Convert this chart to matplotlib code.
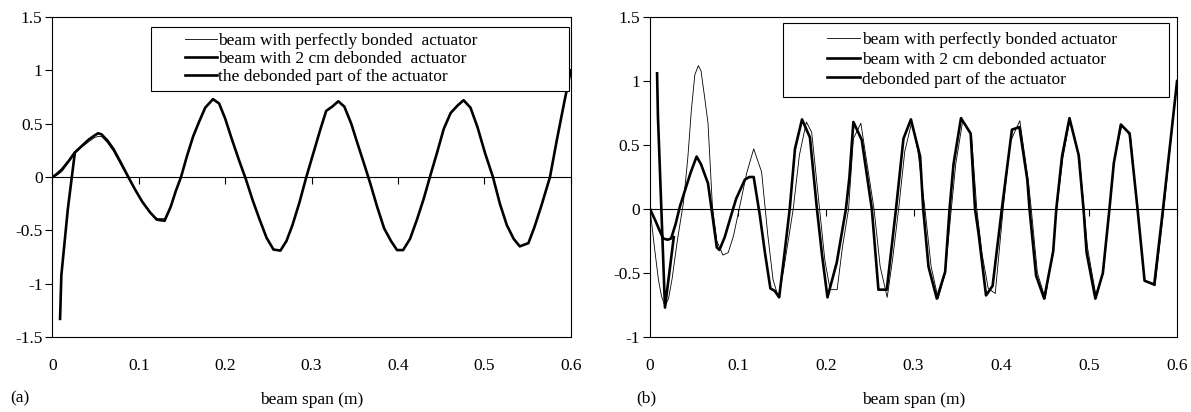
import matplotlib
matplotlib.use("Agg")
import matplotlib.pyplot as plt
from matplotlib.lines import Line2D
from matplotlib.legend_handler import HandlerLine2D

plt.rcParams['font.family'] = ['Liberation Serif', 'DejaVu Serif']

# ---- panel (a): beam span (m) vs normalised deflection ----
a_x = [0, 0.004, 0.011, 0.019, 0.026, 0.034, 0.042, 0.049, 0.053, 0.057,
       0.064, 0.071, 0.079, 0.088, 0.096, 0.104, 0.113, 0.121, 0.130, 0.137,
       0.143, 0.149, 0.156, 0.163, 0.170, 0.177, 0.186, 0.193, 0.200, 0.208,
       0.216, 0.224, 0.232, 0.240, 0.248, 0.256, 0.264, 0.271, 0.278, 0.286,
       0.294, 0.302, 0.310, 0.317, 0.324, 0.331, 0.338, 0.346, 0.353, 0.361,
       0.368, 0.376, 0.384, 0.392, 0.399, 0.406, 0.414, 0.422, 0.430, 0.437,
       0.445, 0.453, 0.461, 0.469, 0.476, 0.484, 0.492, 0.501, 0.510, 0.518,
       0.526, 0.534, 0.541, 0.551, 0.558, 0.566, 0.576, 0.584, 0.592, 0.600]
a_bonded = [0, 0.01, 0.05, 0.14, 0.22, 0.28, 0.33, 0.37, 0.38, 0.38,
            0.32, 0.24, 0.12, -0.01, -0.12, -0.23, -0.33, -0.39, -0.39, -0.28,
            -0.13, 0.0, 0.2, 0.38, 0.52, 0.65, 0.73, 0.69, 0.55, 0.35,
            0.16, -0.02, -0.22, -0.40, -0.57, -0.68, -0.69, -0.60, -0.45, -0.24,
            0.0, 0.22, 0.44, 0.62, 0.66, 0.71, 0.66, 0.50, 0.32, 0.12,
            -0.06, -0.28, -0.48, -0.60, -0.685, -0.685, -0.58, -0.40, -0.20, 0.0,
            0.22, 0.45, 0.60, 0.67, 0.72, 0.65, 0.47, 0.22, 0.0, -0.25,
            -0.45, -0.58, -0.65, -0.62, -0.47, -0.27, 0.0, 0.35, 0.68, 1.0]
a_debonded = [0, 0.02, 0.07, 0.15, 0.23, 0.29, 0.35, 0.39, 0.41, 0.40,
              0.34, 0.26, 0.14, 0.0, -0.12, -0.23, -0.33, -0.40, -0.41, -0.28,
              -0.13, 0.0, 0.2, 0.38, 0.52, 0.65, 0.73, 0.69, 0.55, 0.35,
              0.16, -0.02, -0.22, -0.40, -0.57, -0.68, -0.69, -0.60, -0.45, -0.24,
              0.0, 0.22, 0.44, 0.62, 0.66, 0.71, 0.66, 0.50, 0.32, 0.12,
              -0.06, -0.28, -0.48, -0.60, -0.685, -0.685, -0.58, -0.40, -0.20, 0.0,
              0.22, 0.45, 0.60, 0.67, 0.72, 0.65, 0.47, 0.22, 0.0, -0.25,
              -0.45, -0.58, -0.65, -0.62, -0.47, -0.27, 0.0, 0.35, 0.68, 1.0]
a_part_x = [0.009, 0.0105, 0.018, 0.026]
a_part_y = [-1.33, -0.92, -0.30, 0.22]

# ---- panel (b) ----
b_bonded_x = [0, 0.005, 0.0095, 0.013, 0.017, 0.021, 0.025, 0.031, 0.038, 0.043,
              0.047, 0.051, 0.055, 0.058, 0.062, 0.066, 0.071, 0.076, 0.083, 0.089,
              0.095, 0.103, 0.110, 0.118, 0.127, 0.134, 0.140, 0.146, 0.152, 0.163,
              0.170, 0.178, 0.184, 0.193, 0.199, 0.205, 0.213, 0.219, 0.226, 0.2315,
              0.240, 0.246, 0.255, 0.262, 0.270, 0.276, 0.283, 0.290, 0.298, 0.305,
              0.313, 0.320, 0.328, 0.336, 0.343, 0.348, 0.356, 0.366, 0.372, 0.378,
              0.385, 0.393, 0.402, 0.410, 0.415, 0.421, 0.431, 0.434, 0.441, 0.450,
              0.459, 0.463, 0.470, 0.478, 0.489, 0.494, 0.498, 0.508, 0.516, 0.523,
              0.529, 0.537, 0.547, 0.555, 0.563, 0.575, 0.585, 0.600]
b_bonded_y = [0, -0.30, -0.55, -0.68, -0.76, -0.70, -0.55, -0.25, 0.05, 0.40,
              0.77, 1.05, 1.12, 1.08, 0.88, 0.67, 0.02, -0.25, -0.36, -0.34,
              -0.21, 0.05, 0.28, 0.47, 0.29, -0.20, -0.55, -0.69, -0.48, 0.0,
              0.42, 0.68, 0.60, 0.0, -0.40, -0.63, -0.63, -0.30, 0.0, 0.55,
              0.67, 0.40, 0.0, -0.45, -0.69, -0.40, 0.0, 0.45, 0.68, 0.45,
              0.0, -0.45, -0.70, -0.50, 0.0, 0.35, 0.69, 0.57, 0.0, -0.35,
              -0.62, -0.66, 0.0, 0.52, 0.60, 0.69, 0.20, 0.0, -0.50, -0.70,
              -0.30, 0.0, 0.40, 0.70, 0.40, 0.0, -0.30, -0.69, -0.50, 0.0,
              0.40, 0.65, 0.57, 0.0, -0.56, -0.60, 0.0, 1.0]
b_debonded_x = [0, 0.006, 0.011, 0.015, 0.020, 0.024, 0.029, 0.034, 0.040, 0.046,
                0.053, 0.058, 0.066, 0.071, 0.076, 0.079, 0.085, 0.091, 0.098, 0.104,
                0.108, 0.113, 0.118, 0.125, 0.131, 0.137, 0.142, 0.147, 0.153, 0.159,
                0.165, 0.173, 0.182, 0.190, 0.196, 0.202, 0.2125, 0.223, 0.227, 0.2315,
                0.241, 0.2525, 0.260, 0.2695, 0.280, 0.2885, 0.297, 0.3075, 0.311, 0.317,
                0.3265, 0.336, 0.341, 0.3455, 0.354, 0.365, 0.370, 0.374, 0.3825, 0.390,
                0.4005, 0.412, 0.4205, 0.4295, 0.432, 0.4395, 0.4487, 0.459, 0.4625, 0.469,
                0.4775, 0.488, 0.4935, 0.497, 0.507, 0.5155, 0.523, 0.528, 0.536, 0.546,
                0.555, 0.563, 0.574, 0.584, 0.600]
b_debonded_y = [0, -0.09, -0.17, -0.23, -0.24, -0.23, -0.12, 0.02, 0.15, 0.28,
                0.41, 0.35, 0.20, -0.05, -0.30, -0.32, -0.22, -0.08, 0.08, 0.17,
                0.23, 0.25, 0.25, -0.05, -0.35, -0.62, -0.64, -0.69, -0.35, 0.0,
                0.47, 0.70, 0.56, 0.0, -0.37, -0.69, -0.42, 0.0, 0.25, 0.68,
                0.54, 0.0, -0.63, -0.63, 0.0, 0.55, 0.70, 0.41, 0.0, -0.45,
                -0.70, -0.49, 0.0, 0.35, 0.71, 0.59, 0.0, -0.19, -0.675, -0.60,
                0.0, 0.62, 0.64, 0.23, 0.0, -0.52, -0.70, -0.33, 0.0, 0.41,
                0.71, 0.42, 0.0, -0.34, -0.70, -0.50, 0.0, 0.36, 0.66, 0.59,
                0.0, -0.56, -0.59, 0.0, 1.0]
b_part_x = [0.008, 0.009, 0.017, 0.027]
b_part_y = [1.06, 0.72, -0.77, -0.22]

x_ticks = [0, 0.1, 0.2, 0.3, 0.4, 0.5, 0.6]
x_labels = ['0', '0.1', '0.2', '0.3', '0.4', '0.5', '0.6']
a_yticks = [-1.5, -1, -0.5, 0, 0.5, 1, 1.5]
a_ylabels = ['-1.5', '-1', '-0.5', '0', '0.5', '1', '1.5']
b_yticks = [-1, -0.5, 0, 0.5, 1, 1.5]
b_ylabels = ['-1', '-0.5', '0', '0.5', '1', '1.5']

a_labels = ['beam with perfectly bonded  actuator',
            'beam with 2 cm debonded  actuator',
            'the debonded part of the actuator']
b_labels = ['beam with perfectly bonded actuator',
            'beam with 2 cm debonded actuator',
            'debonded part of the actuator']

THIN = 0.6
THICK = 1.9
FS = 12.5

fig = plt.figure(figsize=(11.91, 4.12), dpi=100)
ax_a = fig.add_axes([0.0439, 0.182, 0.4353, 0.7767])
ax_b = fig.add_axes([0.5458, 0.182, 0.4425, 0.7767])


def style_axes(ax, ylo, yhi, yticks, ylabels):
    ax.set_xlim(0, 0.6)
    ax.set_ylim(ylo, yhi)
    ax.set_xticks(x_ticks)
    ax.set_xticklabels(x_labels)
    ax.set_yticks(yticks)
    ax.set_yticklabels(ylabels)
    ax.tick_params(axis='x', length=0, pad=15, labelsize=FS)
    ax.tick_params(axis='y', direction='out', length=5, width=0.8, pad=2, labelsize=FS)
    for s in ax.spines.values():
        s.set_linewidth(0.8)
    ax.set_xlabel('beam span (m)', fontsize=FS, labelpad=13)
    # x axis crossing at zero, with its tick marks pointing down
    zero_pos = (0 - ylo) / (yhi - ylo)
    sec = ax.secondary_xaxis(zero_pos)
    sec.set_alignment('bottom')
    sec.set_xticks(x_ticks)
    sec.tick_params(axis='x', direction='out', length=5, width=0.8,
                    labelbottom=False, labeltop=False)
    for s in sec.spines.values():
        s.set_linewidth(0.8)


# panel (a)
ax_a.plot(a_x, a_bonded, color='black', lw=THIN, label=a_labels[0])
ax_a.plot(a_x, a_debonded, color='black', lw=THICK, label=a_labels[1])
ax_a.plot(a_part_x, a_part_y, color='black', lw=THICK, label=a_labels[2])
style_axes(ax_a, -1.5, 1.5, a_yticks, a_ylabels)

# panel (b)
ax_b.plot(b_bonded_x, b_bonded_y, color='black', lw=THIN, label=b_labels[0])
ax_b.plot(b_debonded_x, b_debonded_y, color='black', lw=THICK, label=b_labels[1])
ax_b.plot(b_part_x, b_part_y, color='black', lw=THICK, label=b_labels[2])
style_axes(ax_b, -1, 1.5, b_yticks, b_ylabels)

leg_a = ax_a.legend(loc='upper left', bbox_to_anchor=(0.190, 0.775, 0.807, 0.194),
                    mode='expand', fontsize=FS, frameon=True, fancybox=False,
                    edgecolor='black', framealpha=1, borderpad=0.35, labelspacing=0.1,
                    handlelength=3.46, handletextpad=0.06, borderaxespad=0,
                    handler_map={Line2D: HandlerLine2D(xpad=1.61)})
leg_a.get_frame().set_linewidth(0.8)

leg_b = ax_b.legend(loc='upper left', bbox_to_anchor=(0.252, 0.750, 0.733, 0.231),
                    mode='expand', fontsize=FS, frameon=True, fancybox=False,
                    edgecolor='black', framealpha=1, borderpad=0.52, labelspacing=0.2,
                    handlelength=3.92, handletextpad=0.1, borderaxespad=0,
                    handler_map={Line2D: HandlerLine2D(xpad=2.02)})
leg_b.get_frame().set_linewidth(0.8)

fig.text(20 / 1191, 1 - 398 / 412, '(a)', fontsize=FS, ha='center', va='center')
fig.text(646 / 1191, 1 - 398 / 412, '(b)', fontsize=FS, ha='center', va='center')

fig.savefig('out.png', dpi=100)
